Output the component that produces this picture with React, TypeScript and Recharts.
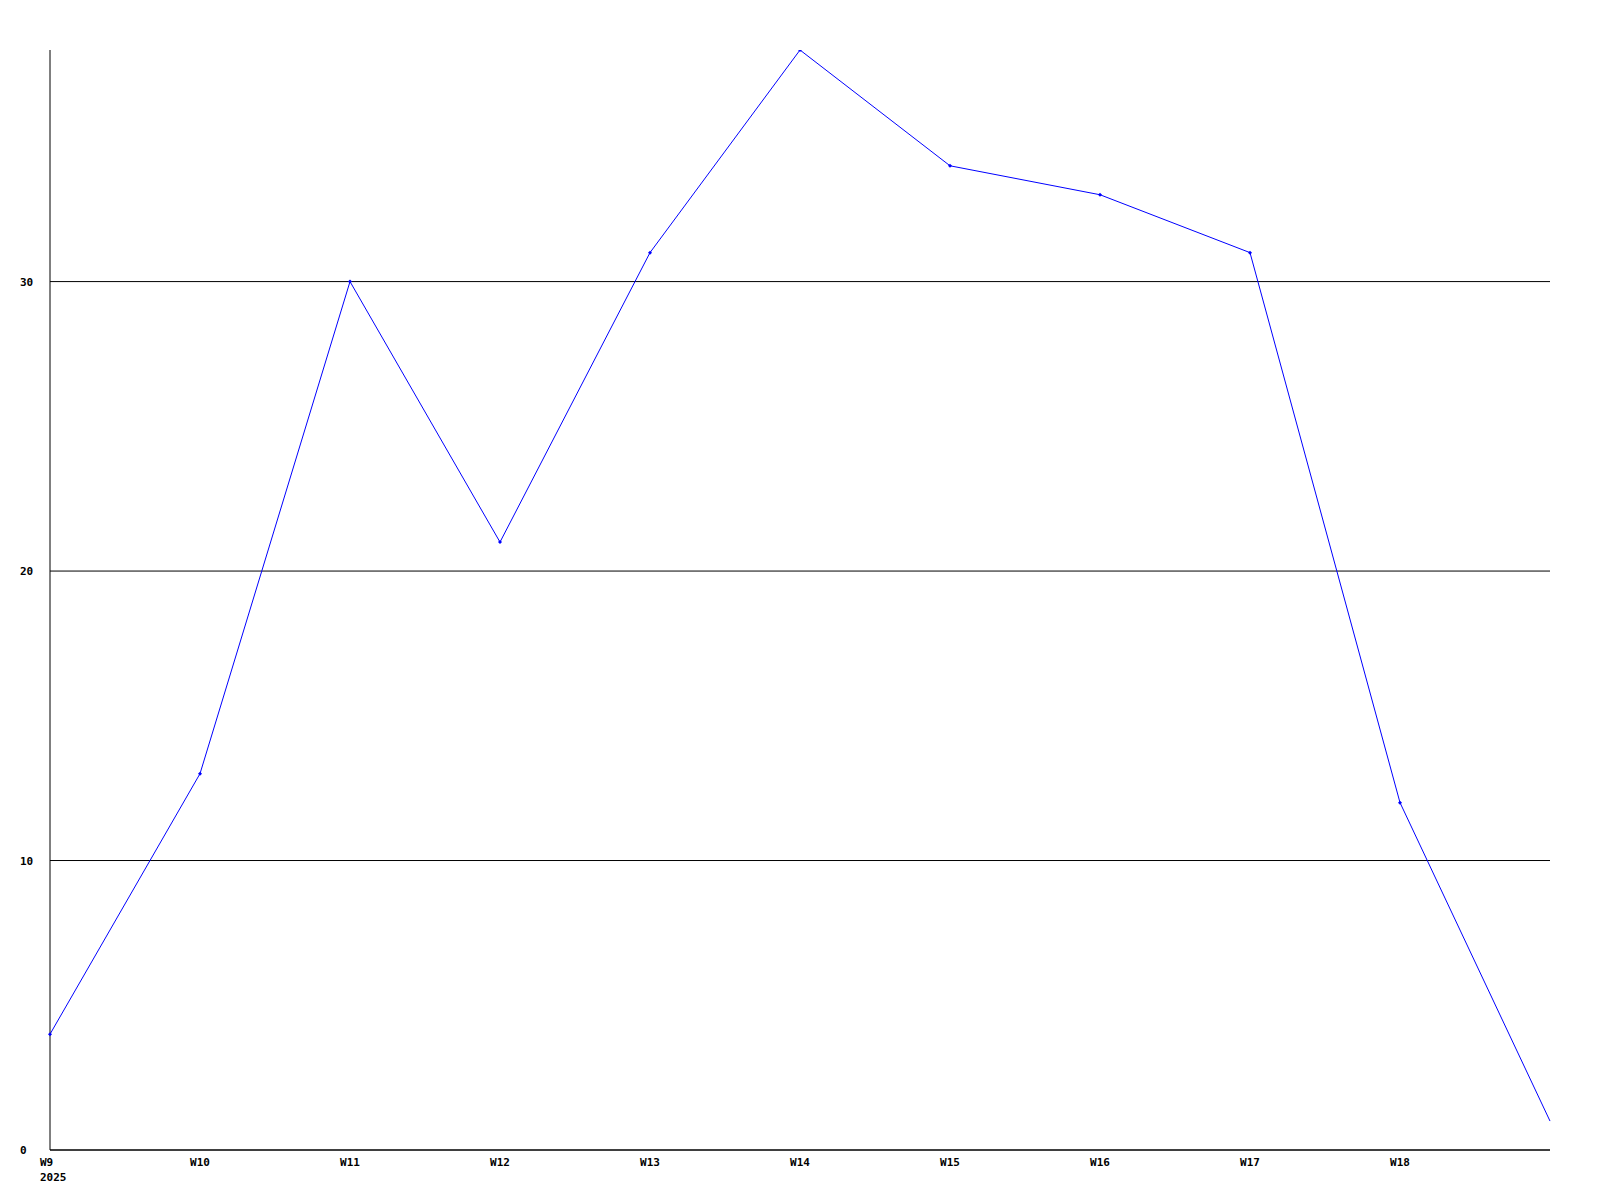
import React from "react";
import { LineChart, Line, XAxis, YAxis, CartesianGrid } from "recharts";

const weeks = ["W9", "W10", "W11", "W12", "W13", "W14", "W15", "W16", "W17", "W18", "W19"];
const weekLabels = ["W9", "W10", "W11", "W12", "W13", "W14", "W15", "W16", "W17", "W18", ""];
const yearLabel = "2025";
const counts = [4, 13, 30, 21, 31, 38, 34, 33, 31, 12, 1];
const yTicks = [0, 10, 20, 30];
const yMax = 38;

const data = weeks.map((w, i) => ({ week: w, label: weekLabels[i], value: counts[i] }));

const FONT = "'DejaVu Sans Mono', 'Liberation Mono', monospace";

const XTick = (props: any) => {
  const { x, y, index } = props;
  const label = weekLabels[index];
  if (!label) return <g />;
  const first = index === 0;
  return (
    <g>
      <text
        x={first ? x - 10 : x}
        y={y + 16}
        textAnchor={first ? "start" : "middle"}
        fontFamily={FONT}
        fontSize={11}
        fontWeight="bold"
        fill="#000"
      >
        {label}
      </text>
      {first && (
        <text x={x - 10} y={y + 31} textAnchor="start" fontFamily={FONT} fontSize={11} fontWeight="bold" fill="#000">
          {yearLabel}
        </text>
      )}
    </g>
  );
};

const YTick = (props: any) => {
  const { x, y, payload } = props;
  return (
    <text x={x} y={y + 4} textAnchor="start" fontFamily={FONT} fontSize={11} fontWeight="bold" fill="#000">
      {payload.value}
    </text>
  );
};

const Dot = (props: any) => {
  const { cx, cy, index } = props;
  if (index === counts.length - 1) return <g key={`d${index}`} />;
  return (
    <path
      key={`d${index}`}
      d={`M${cx - 2},${cy} L${cx},${cy - 2} L${cx + 2},${cy} L${cx},${cy + 2} Z`}
      fill="#0000ff"
      stroke="none"
    />
  );
};

export default function App() {
  return (
    <div style={{ position: "absolute", left: 0, top: 0, width: 1600, height: 1200, background: "#fff" }}>
      <LineChart width={1600} height={1200} data={data} margin={{ top: 50, right: 50, bottom: 0, left: 0 }}>
        <CartesianGrid horizontal vertical={false} stroke="#000" strokeWidth={1} horizontalValues={yTicks} />
        <XAxis
          dataKey="week"
          height={50}
          tickLine={false}
          tickSize={0}
          tickMargin={0}
          axisLine={{ stroke: "#000", strokeWidth: 1 }}
          tick={<XTick />}
          interval={0}
        />
        <YAxis
          width={50}
          domain={[0, yMax]}
          ticks={yTicks}
          tickLine={false}
          tickSize={0}
          tickMargin={30}
          axisLine={{ stroke: "#000", strokeWidth: 1 }}
          tick={<YTick />}
          allowDataOverflow
        />
        <Line
          type="linear"
          dataKey="value"
          stroke="#0000ff"
          strokeWidth={1}
          dot={<Dot />}
          activeDot={false}
          isAnimationActive={false}
        />
      </LineChart>
    </div>
  );
}
